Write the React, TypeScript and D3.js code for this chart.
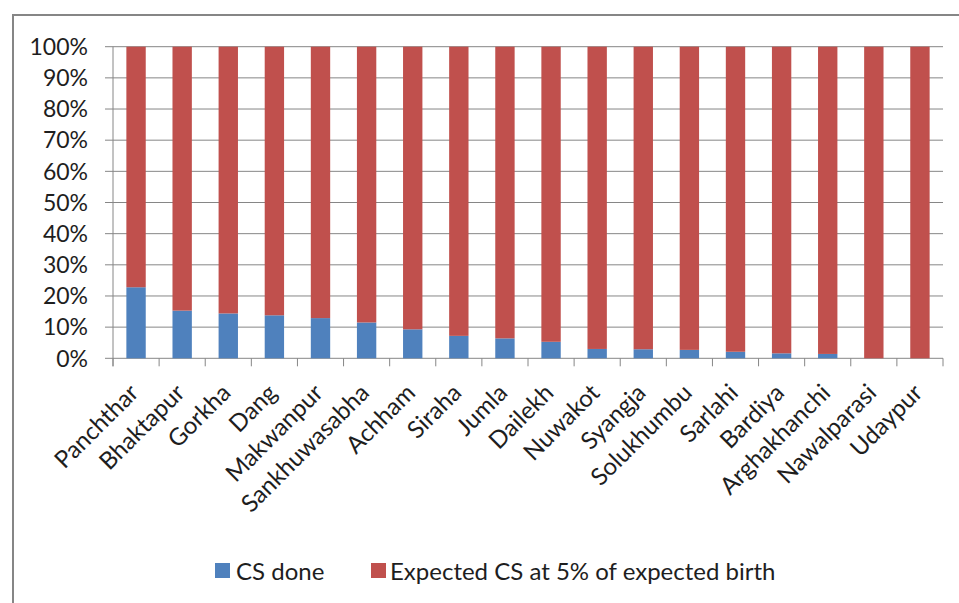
import React from "react";
import * as d3 from "d3";

// Districts ordered by caesarean-section coverage
const districts = [
  "Panchthar", "Bhaktapur", "Gorkha", "Dang", "Makwanpur", "Sankhuwasabha",
  "Achham", "Siraha", "Jumla", "Dailekh", "Nuwakot", "Syangja",
  "Solukhumbu", "Sarlahi", "Bardiya", "Arghakhanchi", "Nawalparasi", "Udaypur",
];

// Share (%) of CS done
const csDone = [22.8, 15.3, 14.4, 13.8, 12.9, 11.5, 9.3, 7.2, 6.4, 5.3, 3.0, 2.9, 2.7, 2.1, 1.6, 1.4, 0, 0];

// Share (%) of expected CS at 5% of expected birth
const expectedCS = [77.2, 84.7, 85.6, 86.2, 87.1, 88.5, 90.7, 92.8, 93.6, 94.7, 97.0, 97.1, 97.3, 97.9, 98.4, 98.6, 100, 100];

const yTicks = [0, 10, 20, 30, 40, 50, 60, 70, 80, 90, 100];

const seriesNames = ["CS done", "Expected CS at 5% of expected birth"];
const seriesColors = ["#4F81BD", "#C0504D"];

const W = 959;
const H = 603;
const plot = { left: 113, right: 943, top: 46.7, bottom: 358.3 };
const FONT = "Lato, 'Open Sans', sans-serif";
const GRID = "#868686";
const INK = "#1e1e1e";

export default function App() {
  const x = d3.scaleBand<string>().domain(districts).range([plot.left, plot.right]).padding(0);
  const y = d3.scaleLinear().domain([0, 100]).range([plot.bottom, plot.top]);
  const barW = x.bandwidth() * 0.42;

  const rows = districts.map((d, i) => ({ district: d, cs: csDone[i], expected: expectedCS[i] }));
  const stacked = d3.stack<any>().keys(["cs", "expected"])(rows);

  return (
    <svg
      width={W}
      height={H}
      style={{ position: "absolute", left: 0, top: 0, background: "#fff" }}
      fontFamily={FONT}
    >
      {/* chart frame */}
      <rect x={13} y={15} width={W} height={H} fill="#fff" stroke={GRID} strokeWidth={2} />

      {/* horizontal gridlines and value labels */}
      {yTicks.map((t) => (
        <g key={t}>
          <line x1={plot.left - 8} x2={plot.right} y1={y(t)} y2={y(t)} stroke={GRID} strokeWidth={1} />
          <text x={88} y={y(t)} dy="0.36em" textAnchor="end" fontSize={23} fill={INK}>
            {t}%
          </text>
        </g>
      ))}

      {/* value axis */}
      <line x1={plot.left} x2={plot.left} y1={plot.top} y2={plot.bottom + 8} stroke={GRID} strokeWidth={1} />

      {/* category ticks */}
      {districts.map((d) => (
        <line key={d} x1={x(d)!} x2={x(d)!} y1={plot.bottom} y2={plot.bottom + 8} stroke={GRID} />
      ))}
      <line x1={plot.right} x2={plot.right} y1={plot.bottom} y2={plot.bottom + 8} stroke={GRID} />

      {/* stacked bars */}
      {stacked.map((layer, si) => (
        <g key={layer.key} fill={seriesColors[si]}>
          {layer.map((seg: any, i: number) => {
            const d = districts[i];
            const cx = x(d)! + x.bandwidth() / 2;
            const h = y(seg[0]) - y(seg[1]);
            if (h <= 0) return null;
            return <rect key={d} x={cx - barW / 2} y={y(seg[1])} width={barW} height={h} />;
          })}
        </g>
      ))}

      {/* category labels */}
      {districts.map((d) => {
        const cx = x(d)! + x.bandwidth() / 2 + 4;
        const cy = plot.bottom + 36;
        return (
          <text
            key={d}
            x={cx}
            y={cy}
            textAnchor="end"
            fontSize={24}
            fill={INK}
            transform={`rotate(-45 ${cx} ${cy})`}
          >
            {d}
          </text>
        );
      })}

      {/* legend */}
      <g fontSize={24} fill={INK}>
        <rect x={215} y={563} width={15} height={15} fill={seriesColors[0]} />
        <text x={236} y={571} dy="0.36em">{seriesNames[0]}</text>
        <rect x={371} y={563} width={15} height={15} fill={seriesColors[1]} />
        <text x={390} y={571} dy="0.36em">{seriesNames[1]}</text>
      </g>
    </svg>
  );
}
